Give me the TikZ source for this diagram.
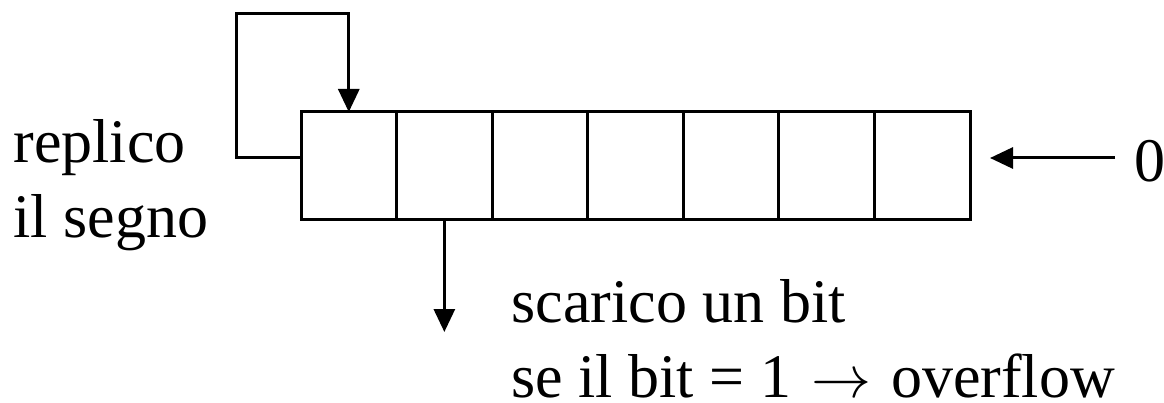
\documentclass[tikz,border=0pt]{standalone}
\usepackage{fontspec}
\setmainfont{Liberation Serif}
\usetikzlibrary{arrows.meta}
\newcommand{\bigrarrow}{{\fontsize{10}{12}\selectfont\scalebox{6}{$\rightarrow$}}}
\begin{document}
\begin{tikzpicture}[x=1pt,y=-1pt,line width=3pt,
  cell/.style={draw,rectangle,minimum width=95.57pt,minimum height=108pt,inner sep=0pt,outer sep=0pt},
  arr/.style={-{Triangle[length=23pt,width=21pt]}},
  txt/.style={anchor=base west,inner sep=0pt,font=\fontsize{62}{75}\selectfont}]
\useasboundingbox (0,0) rectangle (1164,403);
\foreach \i in {1,...,7}{
  \node[cell] (c\i) at ({301+95.57*(\i-0.5)},166) {};
}
\coordinate (lt) at (236.5,14);
\draw[arr,line cap=butt,line join=miter] ([yshift=8pt]c1.west) -| (lt) -| (c1.north);
\coordinate (dn) at (444.4,332);
\draw[arr] (c2.south) -- (c2.south |- dn);
\node[txt] (zero) at (1133,182) {0};
\coordinate (zt) at (990,158);
\draw[arr] (1115,158) -- (zt);
\node[txt] (t1) at (12,163) {replico};
\node[txt] (t2) at (12,238) {il segno};
\node[txt] (t3) at (510,322) {scarico un bit};
\node[txt] (t4) at (510,397) {se il bit = 1\hspace{20pt}\bigrarrow\hspace{20pt}overflow};
\end{tikzpicture}
\end{document}
